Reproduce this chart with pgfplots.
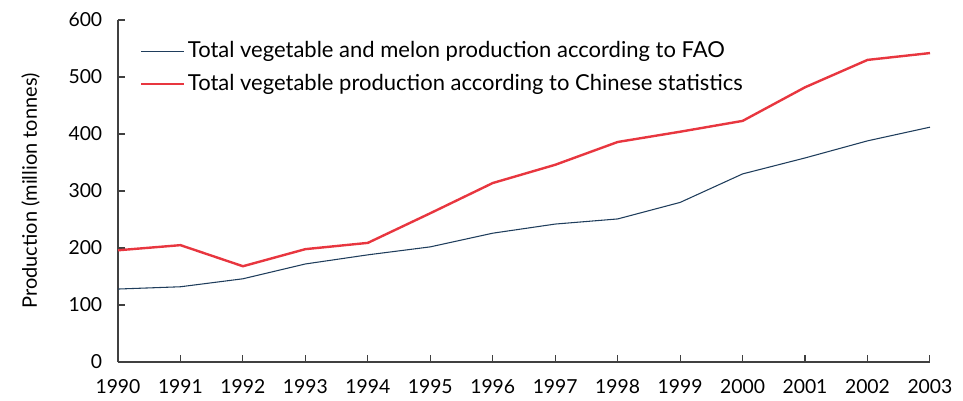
\documentclass[border=0pt]{standalone}
\usepackage{fontspec}
\setmainfont{Lato}
\usepackage{pgfplots}
\pgfplotsset{compat=1.18}
\definecolor{fao}{HTML}{1F3D5C}
\definecolor{cn}{HTML}{E8363F}
\definecolor{axgray}{HTML}{404040}
\begin{document}
\fontsize{14}{17}\selectfont
\begin{tikzpicture}
\path[use as bounding box] (-88.5pt,-28.5pt) rectangle (633.75pt,271.5pt);
\begin{axis}[
  at={(0,0)}, anchor=south west,
  width=609pt, height=256.5pt, scale only axis,
  xmin=1990, xmax=2003, ymin=0, ymax=600,
  axis lines*=left,
  axis line style={axgray, line width=0.8pt},
  xtick={1990,...,2003},
  ytick={0,100,...,600},
  tick align=inside,
  major tick length=5pt,
  tick style={axgray, line width=0.8pt},
  /pgf/number format/assume math mode=true,
  /pgf/number format/1000 sep={},
  ticklabel style={font=\fontsize{14.5}{17}\selectfont},
  xticklabel style={yshift=-8pt},
  yticklabel style={xshift=-7pt},
  ylabel={Production (million tonnes)},
  ylabel style={font=\fontsize{15}{18}\selectfont, yshift=12pt},
  legend style={draw=none, fill=none, at={(0.027,0.945)}, anchor=north west,
    font=\fontsize{16.5}{19}\selectfont, row sep=6.5pt, inner sep=0pt,
    cells={anchor=west}},
  legend image code/.code={\draw[#1] (0pt,0pt) -- (32pt,0pt);},
  clip=false,
]
\addplot[fao, line width=0.8pt] coordinates {
(1990,128) (1991,132) (1992,146) (1993,172) (1994,188) (1995,202) (1996,226)
(1997,242) (1998,251) (1999,280) (2000,330) (2001,358) (2002,388) (2003,412)};
\addlegendentry{Total vegetable and melon production according to FAO}
\addplot[cn, line width=1.8pt] coordinates {
(1990,196) (1991,205) (1992,168) (1993,198) (1994,209) (1995,261) (1996,314)
(1997,346) (1998,386) (1999,404) (2000,423) (2001,482) (2002,530) (2003,542)};
\addlegendentry{Total vegetable production according to Chinese statistics}
\end{axis}
\end{tikzpicture}
\end{document}
